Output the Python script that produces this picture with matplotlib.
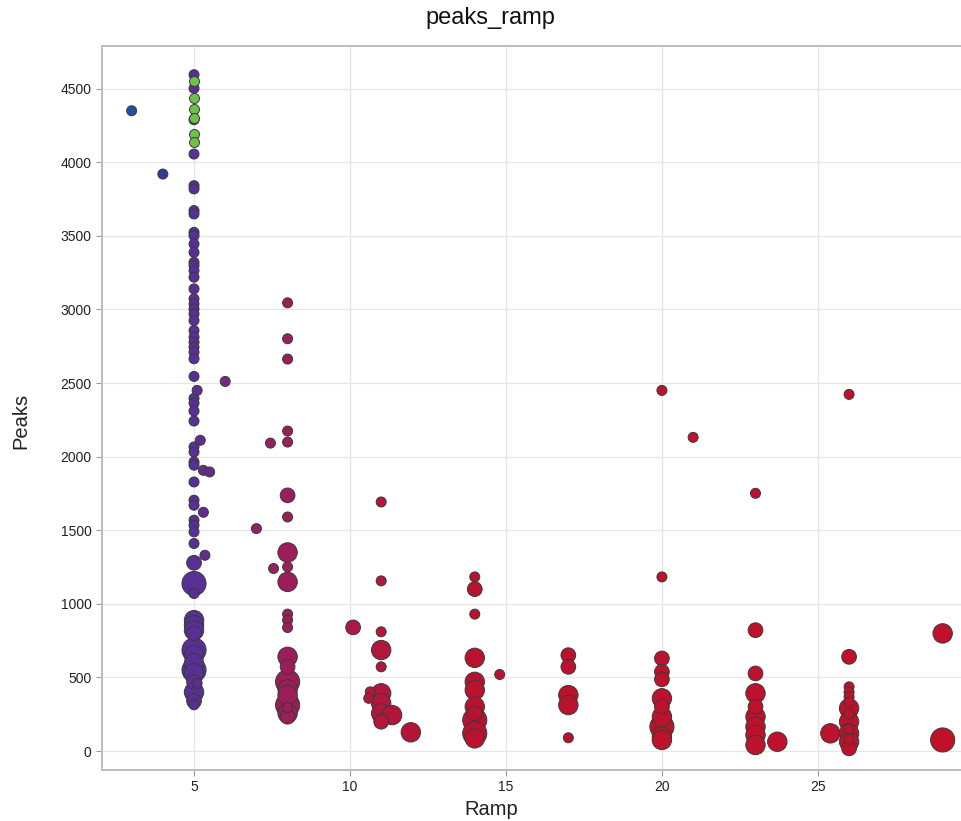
import matplotlib
matplotlib.use("Agg")
import matplotlib.pyplot as plt
from matplotlib.colors import LinearSegmentedColormap, Normalize
import numpy as np

plt.rcParams['font.family'] = ['Liberation Sans', 'DejaVu Sans']

# ---- data -------------------------------------------------------------
ramp = [
    3, 4,
    5, 5, 5, 5, 5, 5, 5, 5, 5, 5, 5, 5, 5, 5, 5, 5, 5, 5, 5, 5, 5, 5, 5, 5, 5, 5, 5, 5,
    5, 5, 5, 5, 5, 5, 5, 5, 5, 5, 5, 5, 5, 5, 5, 5, 5, 5, 5, 5, 5, 5, 5, 5, 5, 5, 5, 5, 5,
    5, 5, 5,
    5.1, 5.2, 5.3, 5.5, 5.3, 5.35, 5.1,
    6.0, 7.0, 7.45, 7.55,
    8, 8, 8, 8, 8, 8, 8, 8, 8, 8, 8, 8, 8, 8, 8, 8, 8, 8, 8, 8, 8, 8,
    10.1, 10.65, 10.6,
    11, 11, 11, 11, 11, 11, 11, 11, 11, 11.35, 11.95,
    14, 14, 14, 14, 14, 14, 14, 14, 14, 14, 14, 14.8,
    17, 17, 17, 17, 17,
    20, 20, 20, 20, 20, 20, 20, 20, 20, 20, 20,
    21,
    23, 23, 23, 23, 23, 23, 23, 23, 23, 23.7,
    25.4, 26, 26, 26, 26, 26, 26, 26, 26, 26, 26, 26, 26, 26, 26,
    29, 29,
]
peaks = [
    4350, 3920,
    4595, 4502, 4289, 4056, 3841, 3819, 3672, 3649, 3524, 3501, 3445, 3388, 3320, 3298,
    3264, 3219, 3140, 3072, 3038, 3004, 2970, 2925, 2857, 2812, 2778, 2744, 2710, 2665,
    2545, 2396, 2364, 2310, 2242, 2066, 2032, 1964, 1942, 1828, 1704, 1670, 1568, 1534,
    1489, 1410, 1279, 1138, 1070, 889, 855, 820, 799, 686, 650, 596, 550, 528, 470,
    400, 340, 314,
    2450, 2111, 1907, 1896, 1622, 1330, 460,
    2511, 1511, 2092, 1240,
    3045, 2801, 2663, 2174, 2099, 1737, 1590, 1349, 1251, 1149, 930, 889, 839, 640, 572,
    470, 420, 380, 312, 294, 256, 233,
    840, 402, 358,
    1692, 1156, 810, 686, 572, 392, 324, 256, 199, 244, 127,
    1183, 1100, 930, 633, 470, 414, 301, 256, 210, 120, 86, 520,
    651, 572, 380, 312, 90,
    2450, 1183, 629, 538, 487, 358, 301, 233, 165, 100, 75,
    2131,
    1751, 821, 527, 392, 301, 233, 165, 109, 41, 63,
    120, 2423, 640, 436, 400, 369, 330, 290, 250, 199, 150, 120, 80, 63, 18,
    799, 75,
]
weight = [
    1, 1,
    1, 1, 1, 1, 1, 1, 1, 1, 1, 1, 1, 1, 1, 1, 1, 1, 1, 1, 1, 1, 1, 1, 1, 1, 1, 1, 1, 1,
    1, 1, 1, 1, 1, 1, 1, 1, 1, 1, 1, 1, 1, 1, 1, 1, 2, 4, 1, 3, 3, 3, 2, 4, 3, 3, 4, 3, 2,
    3, 2, 1,
    1, 1, 1, 1, 1, 1, 1,
    1, 1, 1, 1,
    1, 1, 1, 1, 1, 2, 1, 3, 1, 3, 1, 1, 1, 3, 2, 4, 3, 3, 4, 1, 3, 2,
    2, 1, 1,
    1, 1, 1, 3, 1, 3, 3, 3, 2, 3, 3,
    1, 2, 1, 3, 3, 3, 3, 2, 4, 4, 3, 1,
    2, 2, 3, 3, 1,
    1, 1, 2, 2, 2, 3, 2, 3, 4, 3, 3,
    1,
    1, 2, 2, 3, 2, 3, 3, 3, 3, 3,
    3, 1, 2, 1, 1, 1, 1, 3, 1, 3, 1, 3, 1, 3, 2,
    3, 4,
]
# highlighted points (drawn green) in the ramp = 5 column
green_ramp = [5, 5, 5, 5, 5, 5]
green_peaks = [4554, 4434, 4360, 4298, 4192, 4135]

x_ticks = [5, 10, 15, 20, 25]
y_ticks = [0, 500, 1000, 1500, 2000, 2500, 3000, 3500, 4000, 4500]

# ---- styling ----------------------------------------------------------
cmap = LinearSegmentedColormap.from_list(
    "ramp_cmap",
    [(0.0, "#1f50a3"), (1 / 26, "#34389b"), (2 / 26, "#5a2e93"), (3 / 26, "#78297f"),
     (4 / 26, "#8c2468"), (5 / 26, "#9c1d57"), (8 / 26, "#b0173a"),
     (11 / 26, "#b9122e"), (1.0, "#c0112a")])
norm = Normalize(vmin=3, vmax=29)

fig = plt.figure(figsize=(9.62, 8.21), dpi=100)
ax = fig.add_axes([102 / 962, 1 - 770 / 821, 860 / 962, (770 - 46) / 821])

r = np.array(ramp, dtype=float)
p = np.array(peaks, dtype=float)
w = np.array(weight, dtype=float)
diam_px = 10 + (w - 1) * 4.7
sizes = (diam_px * 72 / 100) ** 2
order = np.argsort(-w, kind="stable")

ax.scatter(r[order], p[order], s=sizes[order], c=r[order], cmap=cmap, norm=norm,
           edgecolors="#3a3a3a", linewidths=0.7, zorder=3)
ax.scatter(green_ramp, green_peaks, s=(10 * 0.72) ** 2, c="#6cc24a",
           edgecolors="#3a3a3a", linewidths=0.7, zorder=4)

ax.set_xlim(2.05, 29.62)
ax.set_ylim(-129, 4790)
ax.set_xticks(x_ticks)
ax.set_yticks(y_ticks)
ax.grid(True, color="#e6e6e6", linewidth=0.9, zorder=0)
ax.set_axisbelow(True)

for side in ["left", "bottom", "top"]:
    ax.spines[side].set_color("#bdbdbd")
    ax.spines[side].set_linewidth(1.4)
ax.spines["right"].set_visible(False)
ax.tick_params(axis="both", colors="#9a9a9a", labelcolor="#222222",
               labelsize=10, length=4, width=0.8)

fig.text(490 / 962, 1 - 18 / 821, "peaks_ramp", ha="center", va="center",
         fontsize=17, color="#111111")
fig.text(491 / 962, 1 - 809 / 821, "Ramp", ha="center", va="center",
         fontsize=14.5, color="#222222")
fig.text(21 / 962, 1 - 421 / 821, "Peaks", ha="center", va="center",
         rotation=90, fontsize=14.5, color="#222222")

fig.savefig("out.png", dpi=100)
